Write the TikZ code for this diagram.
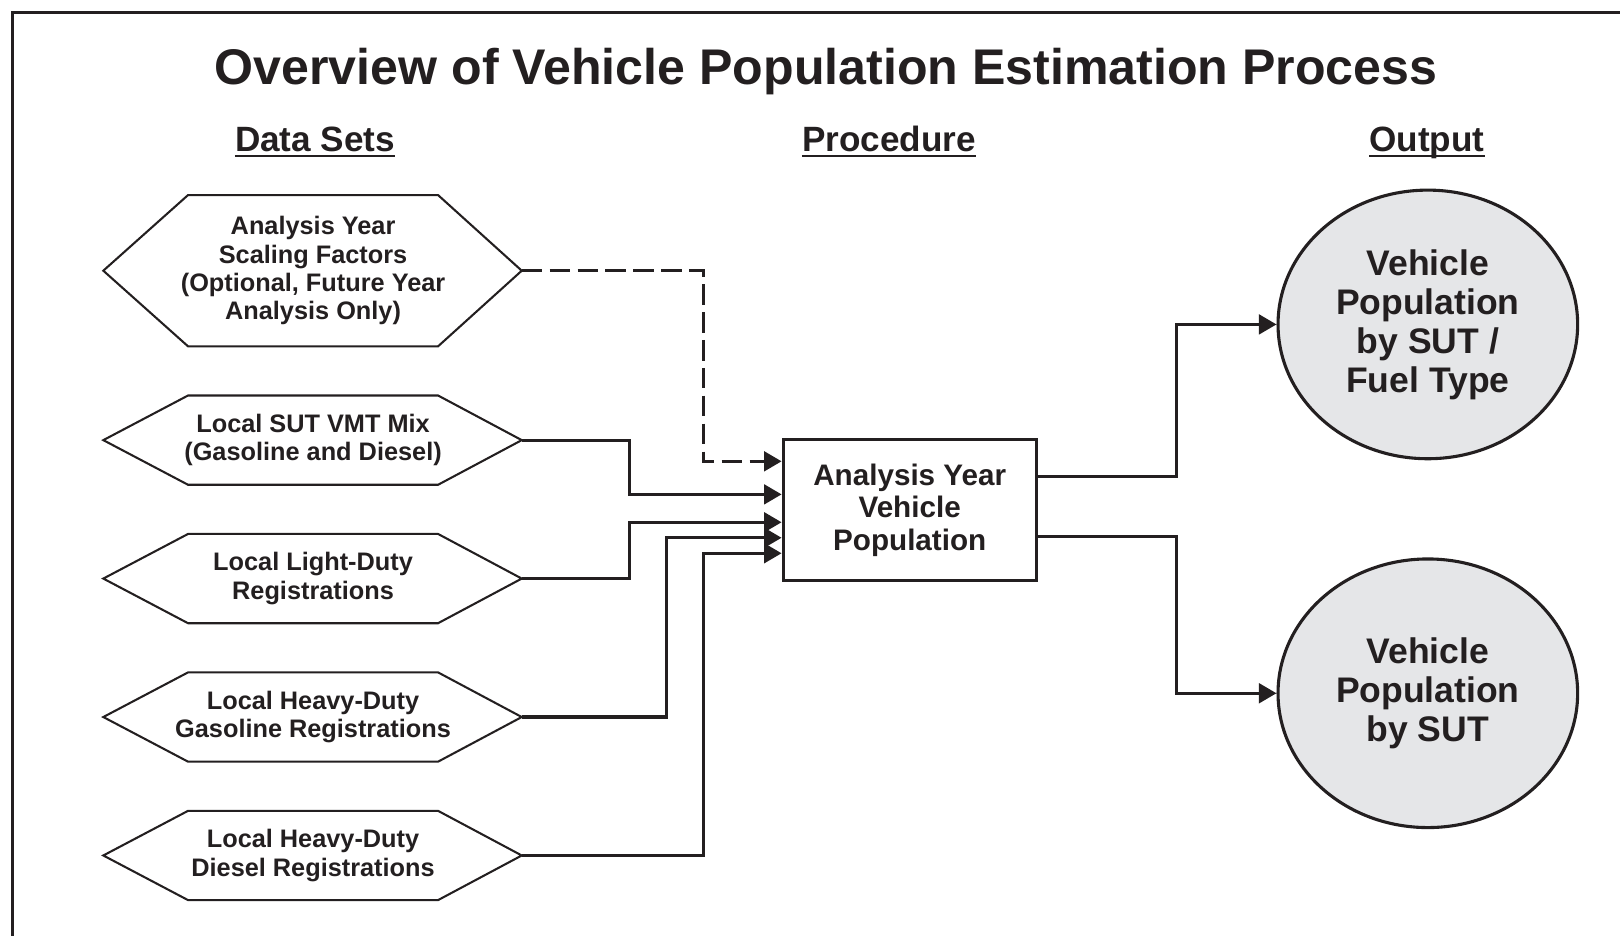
\documentclass[tikz,border=0pt]{standalone}
\usepackage{fontspec}
\setmainfont{Liberation Sans}
\usetikzlibrary{shapes.geometric,arrows.meta}
\definecolor{ink}{HTML}{231F20}
\definecolor{outfill}{HTML}{E5E6E8}
\begin{document}
\begin{tikzpicture}[x=1pt,y=-1pt,line join=miter,
  every node/.style={text=ink},
  hexbox/.style={minimum width=242pt,inner sep=0pt,align=center,
    font=\fontsize{24.5pt}{27.3pt}\selectfont\bfseries},
  hexline/.style={draw=ink,line width=2pt},
  procbox/.style={draw=ink,line width=3pt,minimum width=245pt,minimum height=137pt,
    inner sep=0pt,align=center,font=\fontsize{28.7pt}{31.5pt}\selectfont\bfseries},
  outnode/.style={ellipse,draw=ink,fill=outfill,line width=3pt,minimum width=290pt,
    minimum height=260pt,inner sep=0pt,align=center,
    font=\fontsize{34.4pt}{37.7pt}\selectfont\bfseries},
  header/.style={anchor=base,inner sep=0pt,font=\fontsize{34pt}{40pt}\selectfont\bfseries},
  headrule/.style={draw=ink,line width=2.5pt},
  conn/.style={draw=ink,line width=3pt,-{Triangle[length=17pt,width=19pt]}},
  optconn/.style={conn,dash pattern=on 20pt off 7pt},
]
\useasboundingbox (0,0) rectangle (1568,906);

% page frame (top and left rules)
\coordinate (frameTR) at (1568,12);
\coordinate (frameTL) at (12,12);
\coordinate (frameBL) at (12,906);
\draw[ink,line width=3.5pt] (frameTR) -- (frameTL) -- (frameBL);

% title and column headings
\node[anchor=base,inner sep=0pt,font=\fontsize{48.5pt}{58pt}\selectfont\bfseries]
  (title) at (799.5,82) {Overview of Vehicle Population Estimation Process};
\node[header] (hdData) at (305,147) {Data Sets};
\node[header] (hdProc) at (860.5,147) {Procedure};
\node[header] (hdOut)  at (1381,147) {Output};
\foreach \h in {hdData,hdProc,hdOut}
  \draw[headrule] ([yshift=-4pt]\h.base west) -- ([yshift=-4pt]\h.base east);

% input data sets
\node[hexbox,minimum height=146pt] (h1) at (303,262)
  {Analysis Year\\Scaling Factors\\(Optional, Future Year\\Analysis Only)};
\node[hexbox,minimum height=86pt] (h2) at (303,426)
  {Local SUT VMT Mix\\(Gasoline and Diesel)};
\node[hexbox,minimum height=86pt] (h3) at (303,560)
  {Local Light-Duty\\Registrations};
\node[hexbox,minimum height=86pt] (h4) at (303,694)
  {Local Heavy-Duty\\Gasoline Registrations};
\node[hexbox,minimum height=86pt] (h5) at (303,828)
  {Local Heavy-Duty\\Diesel Registrations};

% hexagon outlines: flat top and bottom, pointed ends
\foreach \n in {h1,h2,h3,h4,h5}{
  \coordinate (\n-tip) at ([xshift=202pt]\n.center);
  \coordinate (\n-back) at ([xshift=-203pt]\n.center);
  \draw[hexline] ([xshift=-121pt]\n.north) -- ([xshift=121pt]\n.north) -- (\n-tip)
    -- ([xshift=121pt]\n.south) -- ([xshift=-121pt]\n.south) -- (\n-back) -- cycle;
}

% procedure
\node[procbox] (box) at (880.5,493.5) {Analysis Year\\Vehicle\\Population};
\coordinate (in1) at ([yshift=-23pt]box.north west);
\coordinate (in2) at ([yshift=-55pt]box.north west);
\coordinate (in3) at ([yshift=-82pt]box.north west);
\coordinate (in4) at ([yshift=-97pt]box.north west);
\coordinate (in5) at ([yshift=-112pt]box.north west);
\coordinate (out1) at ([yshift=-38pt]box.north east);
\coordinate (out2) at ([yshift=-96pt]box.north east);

% outputs
\node[outnode] (c1) at (1382,314) {Vehicle\\Population\\by SUT /\\Fuel Type};
\node[outnode] (c2) at (1382,671) {Vehicle\\Population\\by SUT};

% connectors
\draw[optconn] (h1-tip) -- ++(176,0) |- (in1);
\draw[conn] (h2-tip) -- ++(104,0) |- (in2);
\draw[conn] (h3-tip) -- ++(104,0) |- (in3);
\draw[conn] (h4-tip) -- ++(140,0) |- (in4);
\draw[conn] (h5-tip) -- ++(176,0) |- (in5);
\draw[conn] (out1) -- ++(134,0) |- (c1.west);
\draw[conn] (out2) -- ++(134,0) |- (c2.west);
\end{tikzpicture}
\end{document}
